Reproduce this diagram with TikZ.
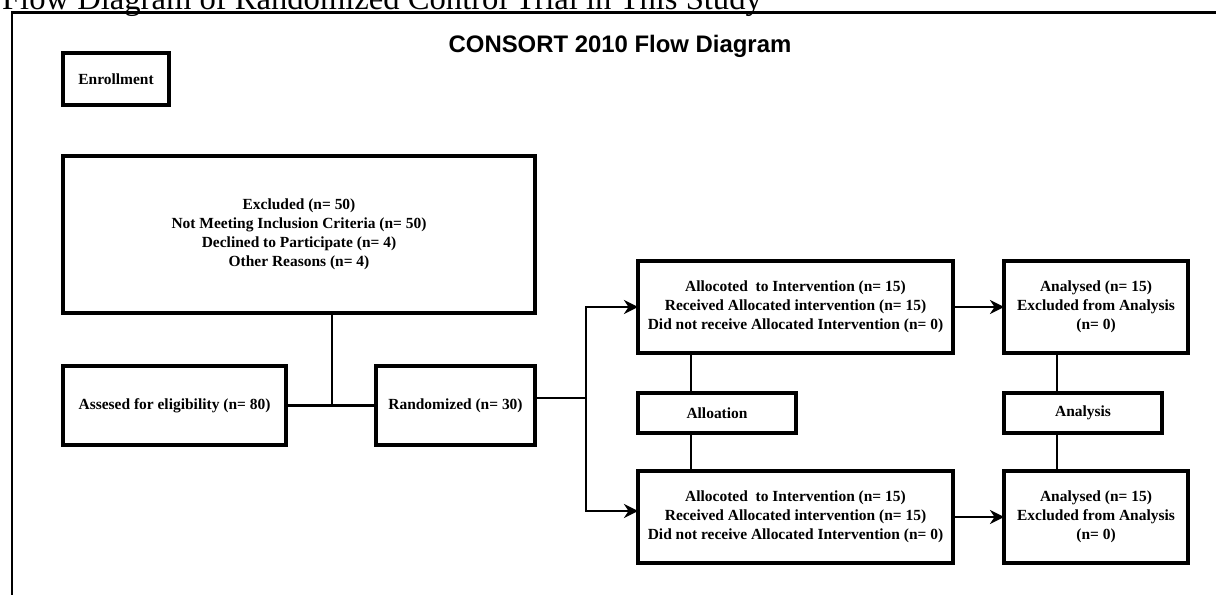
\documentclass[tikz,border=0pt]{standalone}
\usepackage{fontspec}
\setmainfont{Liberation Serif}
\newfontfamily\headfont{Liberation Sans}
\usetikzlibrary{arrows.meta}

\begin{document}
\begin{tikzpicture}[>={Stealth[length=10pt,width=10pt]}, line width=1.8pt,
    ctext/.style={inner sep=0pt, outer sep=0pt, align=center,
      font=\fontsize{11}{13.4}\selectfont\bfseries},
    cbox/.style={ctext, draw, line width=2.2pt},
    link/.style={line width=1.8pt}]
  \useasboundingbox (0,0) rectangle (30.4,14.875);

  % page caption and frame
  \node[anchor=base west, inner sep=0pt, font=\fontsize{23.2}{27}\selectfont] (cap)
    at (0.02,14.625) {Flow Diagram of Randomized Control Trial in This Study};
  \draw[line width=1.5pt] (0.3,0) -- (0.3,14.5625) -- (30.4,14.5625);
  \node[anchor=base, inner sep=0pt, font=\headfont\bfseries\fontsize{17}{20}\selectfont] (title)
    at (15.5,13.55) {CONSORT 2010 Flow Diagram};

  % enrollment
  \node[cbox, minimum width=2.65cm, minimum height=1.3cm] (enrol) at (2.9,12.9) {Enrollment};
  \node[cbox, minimum width=11.8cm, minimum height=3.925cm] (excl) at (7.475,9.0125)
    {Excluded (n= 50)\\Not Meeting Inclusion Criteria (n= 50)\\Declined to Participate (n= 4)\\Other Reasons (n= 4)};
  \node[cbox, minimum width=5.575cm, minimum height=1.975cm] (assess) at (4.3625,4.7375)
    {Assesed for eligibility (n= 80)};
  \node[cbox, minimum width=3.975cm, minimum height=1.975cm] (rand) at (11.3875,4.7375)
    {Randomized (n= 30)};

  % allocation
  \node[cbox, minimum width=7.875cm, minimum height=2.3cm] (allocT) at (19.8875,7.2)
    {Allocoted\ \ to Intervention (n= 15)\\Received Allocated intervention (n= 15)\\Did not receive Allocated Intervention (n= 0)};
  \node[cbox, minimum width=7.875cm, minimum height=2.3cm] (allocB) at (19.8875,1.95)
    {Allocoted\ \ to Intervention (n= 15)\\Received Allocated intervention (n= 15)\\Did not receive Allocated Intervention (n= 0)};
  \node[cbox, minimum width=3.95cm, minimum height=1cm] (allocLbl) at (17.925,4.55) {Alloation};

  % analysis
  \node[cbox, minimum width=4.6cm, minimum height=2.3cm] (anaT) at (27.4,7.2)
    {Analysed (n= 15)\\Excluded from Analysis\\(n= 0)};
  \node[cbox, minimum width=4.6cm, minimum height=2.3cm] (anaB) at (27.4,1.95)
    {Analysed (n= 15)\\Excluded from Analysis\\(n= 0)};
  \node[cbox, minimum width=3.95cm, minimum height=1cm] (anaLbl) at (27.075,4.55) {Analysis};

  % enrollment links
  \coordinate (vX) at (8.3,0);
  \draw[link] (assess.east) -- (rand.west);
  \draw[link] (excl.south -| vX) -- (vX |- assess.east);

  % randomisation split
  \coordinate (split) at (14.65,4.925);
  \draw[link] (rand.east |- split) -- (split);
  \draw[link, ->] (split) |- (allocT.west);
  \draw[link, ->] (split) |- ([yshift=0.15cm]allocB.west);
  \draw[link, ->] (allocT.east) -- (anaT.west);
  \draw[link, ->] (allocB.east) -- (anaB.west);

  % stage labels hung on the columns
  \coordinate (vA) at (17.275,0);
  \coordinate (vB) at (26.425,0);
  \draw[link] (allocT.south -| vA) -- (allocLbl.north -| vA);
  \draw[link] (allocLbl.south -| vA) -- (allocB.north -| vA);
  \draw[link] (anaT.south -| vB) -- (anaLbl.north -| vB);
  \draw[link] (anaLbl.south -| vB) -- (anaB.north -| vB);
\end{tikzpicture}
\end{document}
